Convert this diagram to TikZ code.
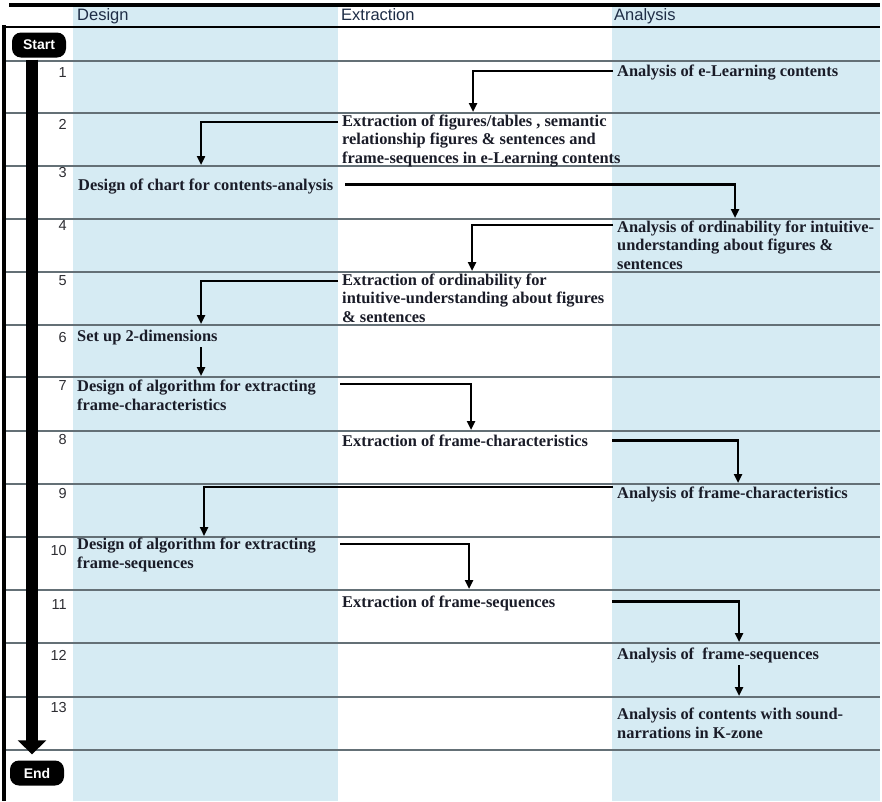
\documentclass[tikz,border=0pt]{standalone}
\usepackage{fontspec}
\setmainfont{Liberation Serif}
\newfontfamily\headfont{Liberation Sans}
\usetikzlibrary{arrows.meta}

\definecolor{lane}{RGB}{214,235,243}
\definecolor{rulegray}{RGB}{100,112,118}
\definecolor{ink}{RGB}{26,28,40}
\definecolor{headink}{RGB}{30,45,70}
\definecolor{numink}{RGB}{45,45,50}

\tikzset{
  steptext/.style={anchor=north west, inner sep=0pt, align=left, text=ink,
    font=\bfseries\fontsize{16.4}{18.7}\selectfont},
  stepnum/.style={anchor=east, inner sep=0pt, text=numink,
    font=\headfont\fontsize{14.5}{14.5}\selectfont},
  lanehead/.style={anchor=base west, inner sep=0pt, text=headink,
    font=\headfont\fontsize{16.5}{16.5}\selectfont},
  terminal/.style={fill=black, text=white, rounded corners=9pt,
    minimum width=54pt, minimum height=25pt, inner sep=0pt,
    font=\headfont\bfseries\fontsize{14}{14}\selectfont},
  flow/.style={line width=2.4pt, -{Triangle[width=8pt,length=9pt]}},
  lifeline/.style={line width=12pt, -{Triangle[width=28pt,length=14pt]}},
  rowrule/.style={draw=rulegray, line width=1.5pt},
}

\begin{document}
\begin{tikzpicture}[x=1pt,y=-1pt]
\useasboundingbox (0,0) rectangle (882,801);

% swimlane backgrounds
\fill[lane] (73,7) rectangle (880,801);
\fill[white] (338,7) rectangle (612,801);

% row rules
\foreach \yy in {61,113,166,219,272,325,377,431,484,537,590,643,697,750}
  \draw[rowrule] (3,\yy) -- (880,\yy);

% frame and header
\draw[line width=4pt] (9,5) -- (880,5);
\draw[line width=2.6pt] (3,27) -- (880,27);
\draw[line width=4pt] (4,25) -- (4,801);

\node[lanehead] (hdesign) at (77,20) {Design};
\node[lanehead] (hextract) at (341,20) {Extraction};
\node[lanehead] (hanalysis) at (614,20) {Analysis};

% lane boundaries used as connector start columns
\coordinate (laneA) at (340,0);
\coordinate (laneB) at (612,0);

% start / end
\node[terminal] (start) at (39,45) {Start};
\node[terminal] (stop) at (37,773) {End};

% step numbers
\node[stepnum] (k1) at (67,73) {1};
\node[stepnum] (k2) at (67,124) {2};
\node[stepnum] (k3) at (67,173) {3};
\node[stepnum] (k4) at (67,226) {4};
\node[stepnum] (k5) at (67,281) {5};
\node[stepnum] (k6) at (67,337) {6};
\node[stepnum] (k7) at (67,386) {7};
\node[stepnum] (k8) at (67,439) {8};
\node[stepnum] (k9) at (67,493) {9};
\node[stepnum] (k10) at (67,550) {10};
\node[stepnum] (k11) at (67,604) {11};
\node[stepnum] (k12) at (67,655) {12};
\node[stepnum] (k13) at (67,707) {13};

% step texts
\node[steptext] (n1) at (617,63) {\strut Analysis of e-Learning contents};
\node[steptext] (n2) at (342,113) {\strut Extraction of figures/tables , semantic\\relationship figures \& sentences and\\frame-sequences in e-Learning contents};
\node[steptext] (n3) at (78,177) {\strut Design of chart for contents-analysis};
\node[steptext] (n4) at (617,219) {\strut Analysis of ordinability for intuitive-\\understanding about figures \&\\sentences};
\node[steptext] (n5) at (342,272) {\strut Extraction of ordinability for\\intuitive-understanding about figures\\\& sentences};
\node[steptext] (n6) at (77,328) {\strut Set up 2-dimensions};
\node[steptext] (n7) at (77,378) {\strut Design of algorithm for extracting\\frame-characteristics};
\node[steptext] (n8) at (342,433) {\strut Extraction of frame-characteristics};
\node[steptext] (n9) at (617,485) {\strut Analysis of frame-characteristics};
\node[steptext] (n10) at (77,536) {\strut Design of algorithm for extracting\\frame-sequences};
\node[steptext] (n11) at (342,594) {\strut Extraction of frame-sequences};
\node[steptext] (n12) at (617,646) {\strut Analysis of~ frame-sequences};
\node[steptext] (n13) at (617,706) {\strut Analysis of contents with sound-\\narrations in K-zone};

% arrow tips
\coordinate (t2) at (473,112);
\coordinate (t3) at (201,165);
\coordinate (t4) at (735,218);
\coordinate (t5) at (472,271);
\coordinate (t6) at (201,324);
\coordinate (t7) at (201,376);
\coordinate (t8) at (471,430);
\coordinate (t9) at (738,483);
\coordinate (t10) at (204,536);
\coordinate (t11) at (469,589);
\coordinate (t12) at (739,642);
\coordinate (t13) at (739,696);

% main timeline
\draw[lifeline] ([xshift=-7pt,yshift=-2pt]start.south) -- ([xshift=-5pt,yshift=6pt]stop.north);

% flows between steps
\draw[flow] ([xshift=-4pt,yshift=-8pt]n1.north west) -| (t2);
\draw[flow] ([xshift=-4pt,yshift=-9pt]n2.north west) -| (t3);
\draw[flow] ([xshift=12pt,yshift=2pt]n3.east) -| (t4);
\draw[flow] ([xshift=-4pt,yshift=-6pt]n4.north west) -| (t5);
\draw[flow] ([xshift=-4pt,yshift=-9pt]n5.north west) -| (t6);
\draw[flow] (n6.south -| t7) -- (t7);
\draw[flow] ([yshift=-6pt]n7.north east -| laneA) -| (t8);
\draw[flow] ([yshift=2pt]n8.east -| laneB) -| (t9);
\draw[flow] ([xshift=-4pt,yshift=-2pt]n9.north west) -| (t10);
\draw[flow] ([yshift=-8pt]n10.north east -| laneA) -| (t11);
\draw[flow] ([yshift=2pt]n11.east -| laneB) -| (t12);
\draw[flow] (n12.south -| t13) -- (t13);
\end{tikzpicture}
\end{document}
